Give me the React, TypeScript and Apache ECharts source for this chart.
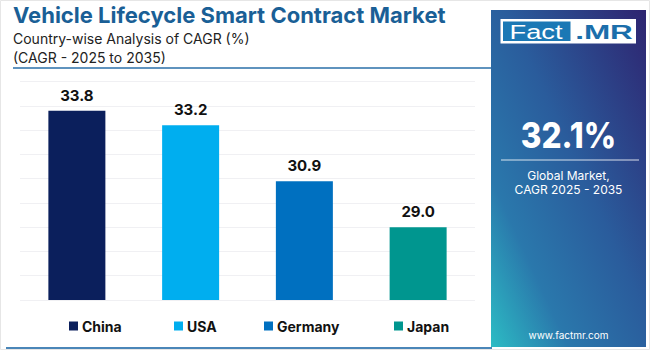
import React, { useEffect, useRef } from "react";
import * as echarts from "echarts";

const categories = ["China", "USA", "Germany", "Japan"];
const values = [33.8, 33.2, 30.9, 29.0];
const colors = ["#0b1f5c", "#00aeef", "#0070c0", "#00968f"];
const legendLefts = [64, 169, 259, 389];
const titleText = "Vehicle Lifecycle Smart Contract Market";
const subtitle1 = "Country-wise Analysis of CAGR (%)";
const subtitle2 = "(CAGR - 2025 to 2035)";
const globalValue = "32.1%";
const globalLabel1 = "Global Market,";
const globalLabel2 = "CAGR 2025 - 2035";
const website = "www.factmr.com";

const FONT = "Inter, 'Noto Sans', sans-serif";

export default function App() {
  const ref = useRef<HTMLDivElement>(null);
  useEffect(() => {
    document.body.style.margin = "0";
    const chart = echarts.init(ref.current!, null, { renderer: "svg" });
    const series = categories.map((c, i) => ({
      name: c,
      type: "bar",
      barWidth: 57,
      barGap: "-100%",
      itemStyle: { color: colors[i] },
      label: {
        show: true,
        position: "top",
        distance: 8,
        color: "#111",
        fontWeight: "bold",
        fontSize: 15,
        fontFamily: FONT,
        formatter: (p: any) => Number(p.value).toFixed(1),
      },
      data: values.map((v, j) => (j === i ? v : "-")),
    }));
    const legends = categories.map((c, i) => ({
      data: [c],
      left: legendLefts[i],
      top: 314,
      icon: "rect",
      itemWidth: 9,
      itemHeight: 9,
      itemGap: 5,
      selectedMode: false,
      textStyle: { fontSize: 14, fontWeight: "bold", color: "#111", fontFamily: FONT, padding: [0, 0, 0, -1] },
    }));
    chart.setOption({
      animation: false,
      backgroundColor: "#ffffff",
      grid: { left: 20, right: 175, top: 81.7, bottom: 50 },
      xAxis: {
        type: "category",
        data: categories,
        axisLine: { show: false },
        axisTick: { show: false },
        axisLabel: { show: false },
      },
      yAxis: {
        type: "value",
        min: 26,
        max: 35,
        interval: 1,
        axisLabel: { show: false },
        axisLine: { show: false },
        axisTick: { show: false },
        splitLine: { show: true, lineStyle: { color: "#f0f0f3", width: 1 } },
      },
      legend: legends,
      series,
      graphic: [
        {
          type: "rect",
          shape: { x: 0.5, y: 0.5, width: 649, height: 349 },
          style: { fill: "none", stroke: "#e6e6e6", lineWidth: 1 },
          silent: true,
        },
        {
          type: "text",
          x: 13,
          y: 15,
          style: { text: titleText, fill: "#1a5f96", fontSize: 22, fontWeight: "bold", fontFamily: FONT, textVerticalAlign: "middle" },
        },
        {
          type: "text",
          x: 13,
          y: 38,
          style: { text: subtitle1, fill: "#222", fontSize: 14, fontFamily: FONT, textVerticalAlign: "middle" },
        },
        {
          type: "text",
          x: 13,
          y: 57,
          style: { text: subtitle2, fill: "#222", fontSize: 14, fontFamily: FONT, textVerticalAlign: "middle" },
        },
        {
          type: "line",
          shape: { x1: 13, y1: 68, x2: 492, y2: 68 },
          style: { stroke: "#2a6fa8", lineWidth: 1.5 },
        },
        {
          type: "line",
          shape: { x1: 6, y1: 348, x2: 492, y2: 348 },
          style: { stroke: "#4a86b8", lineWidth: 2 },
        },
        {
          type: "rect",
          shape: { x: 491, y: 10, width: 155, height: 337 },
          style: {
            fill: new echarts.graphic.LinearGradient(1, 0, 0, 1, [
              { offset: 0, color: "#2e2470" },
              { offset: 0.45, color: "#2a5c9c" },
              { offset: 0.75, color: "#2a78ac" },
              { offset: 1, color: "#2cbcc4" },
            ]),
          },
        },
        {
          type: "rect",
          shape: { x: 500.5, y: 19, width: 135.5, height: 24.5 },
          style: { fill: "#ffffff" },
        },
        {
          type: "rect",
          shape: { x: 503, y: 21.5, width: 67.5, height: 19.5 },
          style: { fill: "#1b78b5" },
        },
        {
          type: "text",
          x: 536,
          y: 32,
          scaleX: 1.3,
          style: { text: "Fact", fill: "#ffffff", fontSize: 21, fontFamily: "'Liberation Sans', Arial, sans-serif", textAlign: "center", textVerticalAlign: "middle" },
        },
        {
          type: "text",
          x: 604,
          y: 32,
          scaleX: 1.5,
          style: { text: ".MR", fill: "#1b6eab", fontSize: 21, fontWeight: "bold", fontFamily: "'Liberation Sans', Arial, sans-serif", textAlign: "center", textVerticalAlign: "middle" },
        },
        {
          type: "text",
          x: 568.5,
          y: 135,
          scaleX: 0.9,
          style: { text: globalValue, fill: "#ffffff", fontSize: 35, fontWeight: 800, fontFamily: FONT, textAlign: "center", textVerticalAlign: "middle" },
        },
        {
          type: "line",
          shape: { x1: 501, y1: 160, x2: 639, y2: 160 },
          style: { stroke: "rgba(255,255,255,0.55)", lineWidth: 1.5 },
        },
        {
          type: "text",
          x: 568.5,
          y: 175,
          style: { text: globalLabel1, fill: "#ffffff", fontSize: 12, fontFamily: FONT, textAlign: "center", textVerticalAlign: "middle" },
        },
        {
          type: "text",
          x: 568.5,
          y: 189,
          style: { text: globalLabel2, fill: "#ffffff", fontSize: 12, fontFamily: FONT, textAlign: "center", textVerticalAlign: "middle" },
        },
        {
          type: "text",
          x: 568.5,
          y: 335,
          style: { text: website, fill: "#ffffff", fontSize: 10, fontFamily: FONT, textAlign: "center", textVerticalAlign: "middle" },
        },
      ],
    });
    return () => chart.dispose();
  }, []);
  return <div ref={ref} style={{ width: 650, height: 350 }} />;
}
